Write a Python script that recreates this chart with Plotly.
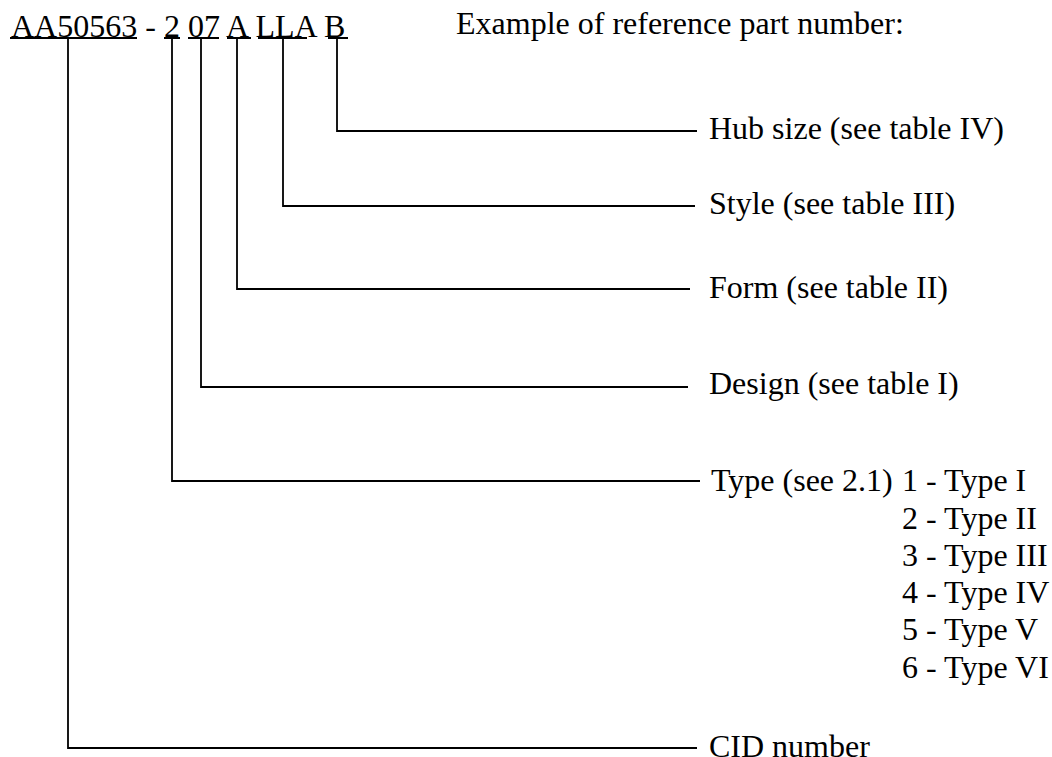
import plotly.graph_objects as go

W, H = 1052, 757
FONT = "Liberation Serif"
FS = 32

# Part number segments (text) and underline extents
part_text = "AA50563 - 2 07 A LLA B"
part_x = 10
part_baseline = 36
underline_start = [10, 164, 188, 227, 258, 328]
underline_end = [137, 180, 219, 251, 307, 348]
underline_y = 38

example_text = "Example of reference part number:"
example_x = 455
example_baseline = 33

# Connectors: from each underlined segment down and across to its label
conn_x = [337, 283, 237, 201, 172, 68]
conn_y = [131, 206, 289, 387, 481, 748]
conn_end = [697, 695, 690, 688, 700, 697]
conn_top = 39

labels = ["Hub size (see table IV)", "Style (see table III)", "Form (see table II)",
          "Design (see table I)", "Type (see 2.1)", "CID number"]
label_x = [708, 708, 708, 708, 710, 708]
label_baseline = [138, 213, 297, 393, 490, 756]

type_items = ["1 - Type I", "2 - Type II", "3 - Type III",
              "4 - Type IV", "5 - Type V", "6 - Type VI"]
type_x = 901
type_baseline = [490, 528, 565, 602, 639, 677]

BASE_OFF = 10  # baseline -> annotation middle offset

fig = go.Figure()

# underlines
ux, uy = [], []
for s, e in zip(underline_start, underline_end):
    ux += [s, e, None]
    uy += [underline_y, underline_y, None]
fig.add_trace(go.Scatter(x=ux, y=uy, mode="lines",
                         line=dict(color="black", width=2), hoverinfo="skip"))

# connectors
cx, cy = [], []
for x0, y0, x1 in zip(conn_x, conn_y, conn_end):
    cx += [x0, x0, x1, None]
    cy += [conn_top, y0, y0, None]
fig.add_trace(go.Scatter(x=cx, y=cy, mode="lines",
                         line=dict(color="black", width=1.8), hoverinfo="skip"))

ann = []
def add_text(t, x, base):
    ann.append(dict(text=t, x=x, y=base - BASE_OFF, xref="x", yref="y",
                    xanchor="left", yanchor="middle", showarrow=False,
                    font=dict(family=FONT, size=FS, color="black"),
                    borderpad=0))

add_text(part_text, part_x, part_baseline)
add_text(example_text, example_x, example_baseline)
for t, x, b in zip(labels, label_x, label_baseline):
    add_text(t, x, b)
for t, b in zip(type_items, type_baseline):
    add_text(t, type_x, b)

fig.update_layout(
    width=W, height=H,
    margin=dict(l=0, r=0, t=0, b=0),
    paper_bgcolor="white", plot_bgcolor="white",
    showlegend=False,
    annotations=ann,
    xaxis=dict(range=[0, W], visible=False, fixedrange=True),
    yaxis=dict(range=[H, 0], visible=False, fixedrange=True),
)

fig.write_html("out.html", config={"displayModeBar": False},
               post_script="document.body.style.margin='0';")
